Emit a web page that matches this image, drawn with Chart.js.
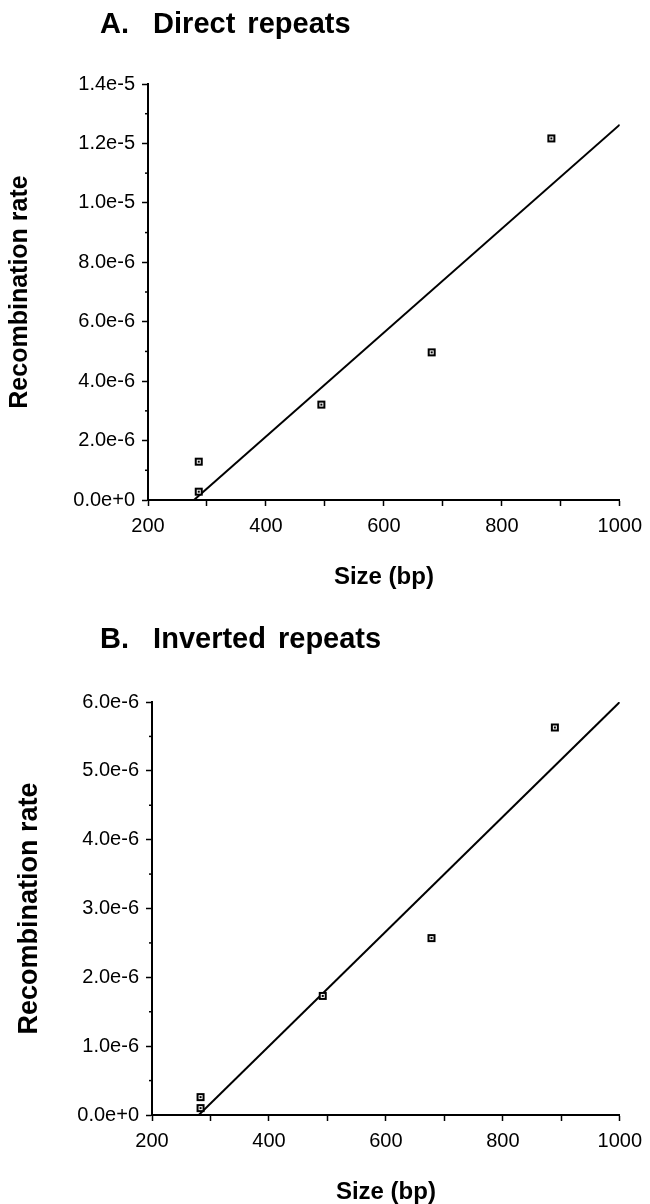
<!DOCTYPE html>
<html>
<head>
<meta charset="utf-8">
<script src="https://cdn.jsdelivr.net/npm/chart.js@4.4.1/dist/chart.umd.min.js"></script>
<style>
  html, body { margin: 0; padding: 0; background: #fff; }
  #page { position: relative; width: 650px; height: 1204px; overflow: hidden; }
  .panel { position: absolute; left: 0; width: 650px; }
  #boxA { top: 0; height: 600px; }
  #boxB { top: 600px; height: 604px; }
  .ptitle { position: absolute; left: 100px; margin: 0; color: #000;
    font: bold 29px "Liberation Sans", Arial, Helvetica, sans-serif;
    line-height: 29px; white-space: pre; word-spacing: 4px; }
</style>
</head>
<body>
<div id="page">
  <div class="panel" id="boxA"><canvas id="chartA" width="650" height="600"></canvas></div>
  <div class="panel" id="boxB"><canvas id="chartB" width="650" height="604"></canvas></div>
  <div class="ptitle" style="top:9px">A.  Direct repeats</div>
  <div class="ptitle" style="top:624px">B.  Inverted repeats</div>
</div>
<script>
const FONT = '"Liberation Sans", Arial, Helvetica, sans-serif';

// x axis (shared)
const xTicks = [200, 300, 400, 500, 600, 700, 800, 900, 1000];
const xLabels = ['200', '', '400', '', '600', '', '800', '', '1000'];

// A. Direct repeats
const sizesA = [286, 286, 494, 681, 884];
const ratesA = [1.29e-6, 0.28e-6, 3.21e-6, 4.97e-6, 1.217e-5];
const fitSizesA = [278, 1000];
const fitRatesA = [0, 1.263e-5];
const yTicksA = [0, 2e-6, 4e-6, 6e-6, 8e-6, 1e-5, 1.2e-5, 1.4e-5];
const yLabelsA = ['0.0e+0', '2.0e-6', '4.0e-6', '6.0e-6', '8.0e-6', '1.0e-5', '1.2e-5', '1.4e-5'];
const yMinorA = [1e-6, 3e-6, 5e-6, 7e-6, 9e-6, 1.1e-5, 1.3e-5];

// B. Inverted repeats
const sizesB = [283, 283, 492, 678, 889];
const ratesB = [0.26e-6, 0.10e-6, 1.73e-6, 2.57e-6, 5.63e-6];
const fitSizesB = [280, 1000];
const fitRatesB = [0, 6.0e-6];
const yTicksB = [0, 1e-6, 2e-6, 3e-6, 4e-6, 5e-6, 6e-6];
const yLabelsB = ['0.0e+0', '1.0e-6', '2.0e-6', '3.0e-6', '4.0e-6', '5.0e-6', '6.0e-6'];
const yMinorB = [0.5e-6, 1.5e-6, 2.5e-6, 3.5e-6, 4.5e-6, 5.5e-6];

// small open square with a dot in the middle
function makeMarker() {
  const c = document.createElement('canvas');
  c.width = 10; c.height = 10;
  const g = c.getContext('2d');
  g.fillStyle = '#fff';
  g.fillRect(1, 1, 8, 8);
  g.strokeStyle = '#000';
  g.lineWidth = 2;
  g.strokeRect(2, 2, 6, 6);
  g.fillStyle = '#000';
  g.fillRect(4, 4, 2, 2);
  return c;
}
const marker = makeMarker();

// short ticks between the labelled ones on the y axis
const minorTicks = {
  id: 'minorTicks',
  afterDatasetsDraw(chart, args, opts) {
    const y = chart.scales.y;
    const ctx = chart.ctx;
    ctx.save();
    ctx.strokeStyle = '#000';
    ctx.lineWidth = 1.5;
    (opts.values || []).forEach(v => {
      const py = y.getPixelForValue(v);
      ctx.beginPath();
      ctx.moveTo(y.right - 3, py);
      ctx.lineTo(y.right, py);
      ctx.stroke();
    });
    ctx.restore();
  }
};

function makeChart(id, o) {
  return new Chart(document.getElementById(id), {
    type: 'scatter',
    data: {
      datasets: [
        {
          data: o.sizes.map((x, i) => ({ x: x, y: o.rates[i] })),
          pointStyle: marker,
          pointRadius: 4,
          order: 1
        },
        {
          data: o.fitSizes.map((x, i) => ({ x: x, y: o.fitRates[i] })),
          showLine: true,
          borderColor: '#000',
          borderWidth: 2,
          pointRadius: 0,
          fill: false,
          order: 2
        }
      ]
    },
    options: {
      responsive: false,
      animation: false,
      layout: { padding: { top: o.top, right: 24, left: 0, bottom: 0 } },
      plugins: {
        legend: { display: false },
        tooltip: { enabled: false },
        minorTicks: { values: o.minor }
      },
      scales: {
        x: {
          type: 'linear', min: 200, max: 1000,
          afterBuildTicks: s => { s.ticks = xTicks.map(v => ({ value: v })); },
          afterFit: s => { s.height = o.xh; },
          ticks: {
            callback: (v, i) => xLabels[i],
            color: '#000', font: { family: FONT, size: 20 },
            padding: 8, maxRotation: 0, autoSkip: false
          },
          grid: { drawOnChartArea: false, drawTicks: true, tickLength: 6, tickColor: '#000', tickWidth: 1.5 },
          border: { display: true, color: '#000', width: 2 },
          title: {
            display: true, text: 'Size (bp)', color: '#000',
            font: { family: FONT, size: 24, weight: 'bold', lineHeight: 1 },
            padding: { top: 0, bottom: o.xtp }
          }
        },
        y: {
          type: 'linear', min: 0, max: o.ymax,
          afterBuildTicks: s => { s.ticks = o.yTicks.map(v => ({ value: v })); },
          afterFit: s => { s.width = o.yw; },
          ticks: {
            callback: (v, i) => o.yLabels[i],
            color: '#000', font: { family: FONT, size: 20 },
            padding: 7, autoSkip: false
          },
          grid: { drawOnChartArea: false, drawTicks: true, tickLength: 6, tickColor: '#000', tickWidth: 1.5 },
          border: { display: true, color: '#000', width: 2 },
          title: {
            display: true, text: 'Recombination rate', color: '#000',
            font: { family: FONT, size: o.ytSize, weight: 'bold', lineHeight: 1 },
            padding: { top: o.ytp, bottom: 0 }
          }
        }
      }
    },
    plugins: [minorTicks]
  });
}

makeChart('chartA', {
  sizes: sizesA, rates: ratesA, fitSizes: fitSizesA, fitRates: fitRatesA,
  yTicks: yTicksA, yLabels: yLabelsA, minor: yMinorA, ymax: 1.4e-5,
  top: 84, yw: 148, xh: 100, xtp: 11, ytSize: 25, ytp: 8
});

makeChart('chartB', {
  sizes: sizesB, rates: ratesB, fitSizes: fitSizesB, fitRates: fitRatesB,
  yTicks: yTicksB, yLabels: yLabelsB, minor: yMinorB, ymax: 6e-6,
  top: 102, yw: 152, xh: 89, xtp: 0, ytSize: 27, ytp: 16
});
</script>
</body>
</html>
